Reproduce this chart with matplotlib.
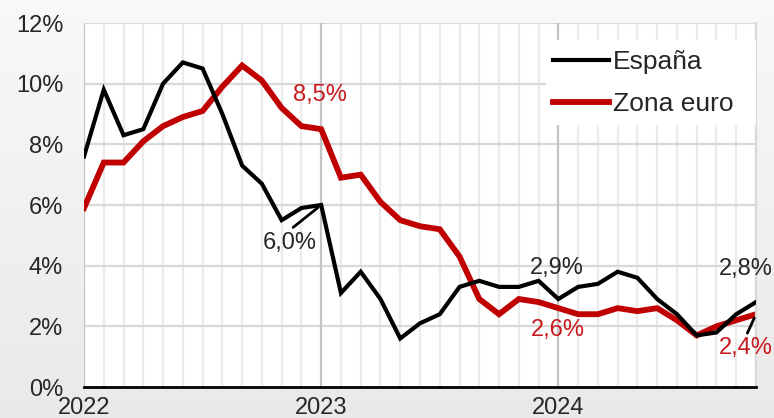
import matplotlib
matplotlib.use("Agg")
import matplotlib.pyplot as plt
import numpy as np
from matplotlib.ticker import FixedLocator
from matplotlib.patches import Rectangle

plt.rcParams['font.family'] = ['Liberation Sans', 'DejaVu Sans']

# Monthly inflation, Feb 2022 .. Dec 2024 (35 points)
espana = [7.6, 9.8, 8.3, 8.5, 10.0, 10.7, 10.5, 9.0, 7.3, 6.7, 5.5, 5.9,
          6.0, 3.1, 3.8, 2.9, 1.6, 2.1, 2.4, 3.3, 3.5, 3.3, 3.3, 3.5,
          2.9, 3.3, 3.4, 3.8, 3.6, 2.9, 2.4, 1.7, 1.8, 2.4, 2.8]
zona_euro = [5.9, 7.4, 7.4, 8.1, 8.6, 8.9, 9.1, 9.9, 10.6, 10.1, 9.2, 8.6,
             8.5, 6.9, 7.0, 6.1, 5.5, 5.3, 5.2, 4.3, 2.9, 2.4, 2.9, 2.8,
             2.6, 2.4, 2.4, 2.6, 2.5, 2.6, 2.2, 1.7, 2.0, 2.2, 2.4]
year_labels = ["2022", "2023", "2024"]
year_pos = [0, 12, 24]
y_ticks = [0, 2, 4, 6, 8, 10, 12]
series_names = ["España", "Zona euro"]

RED = "#C00000"
RED_TXT = "#C8191E"
TXT = "#262626"

W, H = 774, 418
fig = plt.figure(figsize=(W / 100, H / 100), dpi=100)

# background gradient
bg = fig.add_axes([0, 0, 1, 1], zorder=-10)
grad = np.linspace(0, 1, 256).reshape(-1, 1)
top = np.array([0.975, 0.975, 0.975])
bot = np.array([0.915, 0.915, 0.915])
img = top[None, None, :] * (1 - grad[:, :, None]) + bot[None, None, :] * grad[:, :, None]
bg.imshow(img, aspect='auto', extent=[0, 1, 0, 1])
bg.axis('off')

PX_L, PX_R, PX_T, PX_B = 84, 756, 23, 387
left, right = PX_L / W, PX_R / W
top_y, bot_y = 1 - PX_T / H, 1 - PX_B / H
ax = fig.add_axes([left, bot_y, right - left, top_y - bot_y])
ax.set_facecolor('white')
AW, AH = PX_R - PX_L, PX_B - PX_T

x = np.arange(len(espana))
ax.set_xlim(0, len(espana) - 1)
ax.set_ylim(0, 12)

# grid
for m in range(0, len(espana)):
    if m in year_pos:
        continue
    ax.axvline(m, color='#EBEBEB', lw=1.6, zorder=0)
for m in year_pos:
    ax.axvline(m, color='#C4C4C4', lw=1.6, zorder=0.5)
for yv in y_ticks[1:]:
    ax.axhline(yv, color='#D9D9D9', lw=1.6, zorder=0.4)

ax.plot(x, espana, color='black', lw=3.0, zorder=3, label=series_names[0],
        solid_joinstyle='miter')
ax.plot(x, zona_euro, color=RED, lw=4.2, zorder=2, label=series_names[1],
        solid_joinstyle='miter')

for s in ['top', 'left']:
    ax.spines[s].set_visible(False)
ax.spines['right'].set_color('#D9D9D9')
ax.spines['right'].set_linewidth(1.6)
ax.spines['bottom'].set_color('black')
ax.spines['bottom'].set_linewidth(2.0)
ax.spines['bottom'].set_zorder(5)

ax.xaxis.set_major_locator(FixedLocator(year_pos))
ax.set_xticklabels(year_labels)
ax.yaxis.set_major_locator(FixedLocator(y_ticks))
ax.set_yticklabels([f"{v}%" for v in y_ticks])
ax.tick_params(axis='both', length=0, labelsize=17, colors=TXT)
ax.tick_params(axis='x', pad=7)
ax.tick_params(axis='y', pad=15)

fs = 17
# annotations
ax.text(11.95, 9.62, "8,5%", color=RED_TXT, fontsize=fs, ha='center', va='center', zorder=6)
ax.annotate("6,0%", xy=(12, espana[12]), xytext=(10.43, 4.75), color=TXT, fontsize=fs,
            ha='center', va='center', zorder=6,
            arrowprops=dict(arrowstyle='-', color='black', lw=2.0, shrinkA=2, shrinkB=3,
                            relpos=(0.45, 1.0)))
ax.text(23.9, 3.92, "2,9%", color=TXT, fontsize=fs, ha='center', va='center', zorder=6)
ax.text(24.0, 1.88, "2,6%", color=RED_TXT, fontsize=fs, ha='center', va='center', zorder=6)
ax.text(33.47, 3.89, "2,8%", color=TXT, fontsize=fs, ha='center', va='center', zorder=6)
ax.annotate("2,4%", xy=(34, zona_euro[34]), xytext=(33.47, 1.28), color=RED_TXT, fontsize=fs,
            ha='center', va='center', zorder=6, annotation_clip=False,
            arrowprops=dict(arrowstyle='-', color='black', lw=2.0, shrinkA=1, shrinkB=3,
                            relpos=(0.5, 1.0)))

# white legend box
box_l, box_r, box_t, box_b = 546, PX_R, 40, 125
ax.add_patch(Rectangle(((box_l - PX_L) / AW, 1 - (box_b - PX_T) / AH),
                       (box_r - box_l) / AW, (box_b - box_t) / AH,
                       transform=ax.transAxes, facecolor='white', edgecolor='none',
                       zorder=6.5))

leg_fs = 19
leg = ax.legend(loc='upper left', bbox_to_anchor=((553 - PX_L) / AW, 1 - (50 - PX_T) / AH),
                borderaxespad=0, borderpad=0, fontsize=leg_fs, frameon=False,
                handlelength=2.12, handletextpad=0.15, labelspacing=0.68)
leg.set_zorder(7)
for t in leg.get_texts():
    t.set_color(TXT)

fig.savefig("out.png", dpi=100)
